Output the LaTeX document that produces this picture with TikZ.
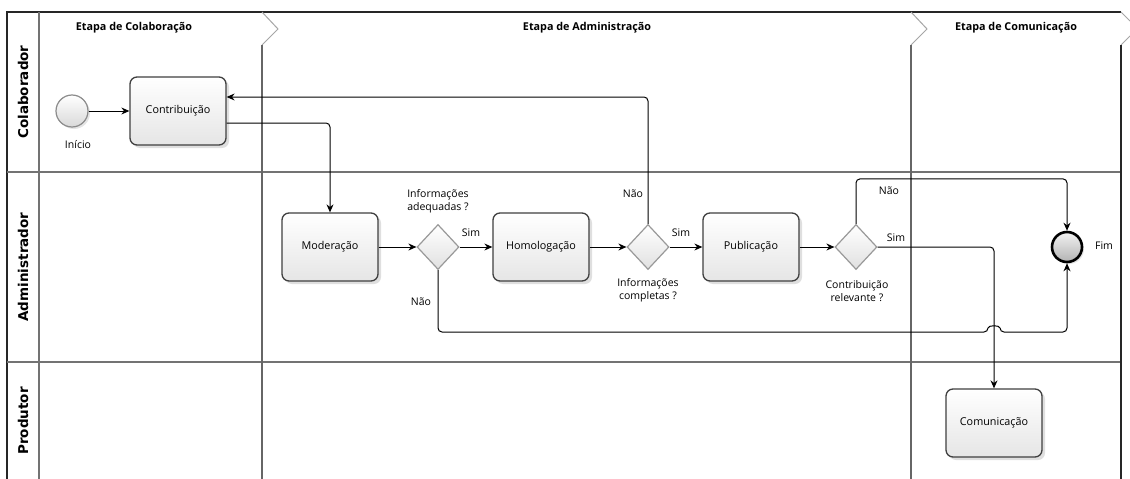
\documentclass[tikz,border=0pt]{standalone}
\usepackage{fontspec}
\setmainfont{Open Sans}
\newfontfamily\lanefont{DejaVu Sans}
\usetikzlibrary{shapes.geometric,arrows.meta,shadows}
\tikzset{
  task/.style={draw=black!75, line width=1.3pt, rounded corners=7pt, minimum width=96pt, minimum height=68pt,
    top color=white, bottom color=black!10, font=\fontsize{10.8}{13}\selectfont,
    drop shadow={opacity=0.25, shadow xshift=3pt, shadow yshift=-3pt}},
  gate/.style={diamond, draw=black!40, line width=1.2pt, minimum width=42pt, minimum height=45pt, inner sep=0pt,
    top color=white, bottom color=black!12},
  startev/.style={circle, draw=black!45, line width=1.2pt, minimum size=32pt, inner sep=0pt,
    top color=white, bottom color=black!15, drop shadow={opacity=0.2, shadow xshift=2pt, shadow yshift=-2pt}},
  endev/.style={circle, draw=black, line width=2.6pt, minimum size=30pt, inner sep=0pt,
    top color=black!5, bottom color=black!30, drop shadow={opacity=0.2, shadow xshift=2pt, shadow yshift=-2pt}},
  lbl/.style={font=\fontsize{10.5}{13}\selectfont, align=center, inner sep=0pt},
  phase/.style={font=\bfseries\fontsize{10.8}{13}\selectfont, inner sep=0pt},
  lanelbl/.style={font=\lanefont\bfseries\fontsize{13.5}{15}\selectfont, rotate=90, inner sep=0pt},
  arr/.style={line width=1pt, draw=black, rounded corners=4pt, -{Stealth[length=8pt,width=7pt]}},
  laneline/.style={draw=black!55, line width=1.2pt},
  chev/.style={draw=black!35, line width=1pt},
  phaseline/.style={draw=black!60, line width=1.2pt}
}
\begin{document}
\begin{tikzpicture}[x=1pt,y=-1pt]
\useasboundingbox (0,0) rectangle (1130,479);
\fill[white] (0,0) rectangle (1130,479);
% frame
\draw[black!85, line width=1.2pt] (7,479) -- (7,12) -- (1121,12);
\draw[laneline] (39,12) -- (39,479);
\draw[laneline] (7,172) -- (1121,172);
\draw[laneline] (7,362) -- (1121,362);
% phase separators
\draw[chev] (262,12) -- (278,29) -- (262,45);
\draw[phaseline] (262,45) -- (262,479);
\draw[chev] (911,12) -- (927,29) -- (911,45);
\draw[phaseline] (911,45) -- (911,479);
\draw[chev] (1121,12) -- (1130,21);
\draw[chev] (1130,36) -- (1121,45);
\draw[black!85, line width=1.2pt] (1121,45) -- (1121,479);
% titles
\node[phase] (t1) at (134,28) {Etapa de Colaboração};
\node[phase] (t2) at (587,28) {Etapa de Administração};
\node[phase] (t3) at (1016,28) {Etapa de Comunicação};
\node[lanelbl] (l1) at (23,92) {Colaborador};
\node[lanelbl] (l2) at (23,267) {Administrador};
\node[lanelbl] (l3) at (23,421) {Produtor};
% nodes
\node[startev] (inicio) at (72,111) {};
\node[lbl] (inicioL) at (78,145) {Início};
\node[task] (contrib) at (178,111) {Contribuição};
\node[task] (moder) at (330,247) {Moderação};
\node[gate] (g1) at (438,247) {};
\node[task] (homol) at (541,247) {Homologação};
\node[gate] (g2) at (648,247) {};
\node[task] (publ) at (751,247) {Publicação};
\node[gate] (g3) at (856,247) {};
\node[endev] (fim) at (1067,247) {};
\node[lbl] (fimL) at (1104,246) {Fim};
\node[task] (comm) at (994,423) {Comunicação};
% gateway labels
\node[lbl] (g1L) at (438,201) {Informações\\adequadas ?};
\node[lbl] (g1s) at (471,233) {Sim};
\node[lbl] (g1n) at (421,302) {Não};
\node[lbl] (g2n) at (633,194) {Não};
\node[lbl] (g2L) at (648,290) {Informações\\completas ?};
\node[lbl] (g2s) at (681,233) {Sim};
\node[lbl] (g3n) at (889,191) {Não};
\node[lbl] (g3s) at (896,238) {Sim};
\node[lbl] (g3L) at (857,291) {Contribuição\\relevante ?};
% connectors
\draw[arr] (inicio) -- (contrib);
\draw[arr] ([yshift=-12pt]contrib.east) -| (moder.north);
\draw[arr] (g2.north) |- ([yshift=14pt]contrib.east);
\draw[arr] (moder) -- (g1);
\draw[arr] (g1) -- (homol);
\draw[arr] (homol) -- (g2);
\draw[arr] (g2) -- (publ);
\draw[arr] (publ) -- (g3);
\draw[arr] (g3.north) -- ++(0,-45) -| (fim.north);
\draw[arr] (g3.east) -| (comm.north);
\coordinate (h1) at (988,332);
\coordinate (h2) at (1000,332);
\draw[arr] (g1.south) |- (h1) .. controls (988,325) and (1000,325) .. (h2) -| (fim.south);
\end{tikzpicture}
\end{document}
